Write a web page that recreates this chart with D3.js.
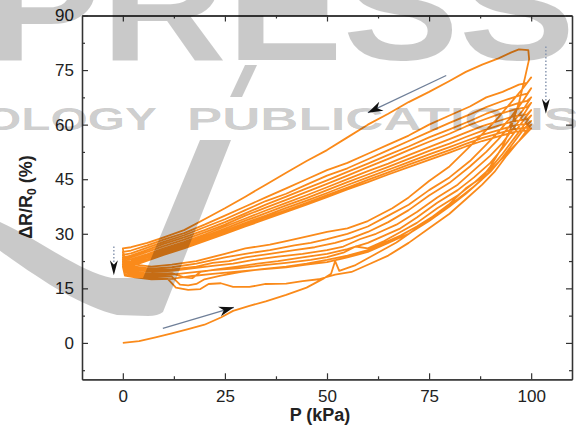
<!DOCTYPE html>
<html><head><meta charset="utf-8">
<script src="https://cdn.jsdelivr.net/npm/d3@7"></script>
<style>html,body{margin:0;padding:0;background:#fff;} svg{display:block;}</style>
</head><body>
<svg id="c" width="576" height="432"></svg>
<script>
// ---- data (P in kPa, ΔR/R0 in %) ----
const xTicks = [0, 25, 50, 75, 100];
const yTicks = [0, 15, 30, 45, 60, 75, 90];
const xMinor = [12.5, 37.5, 62.5, 87.5];
const yMinor = [-7.5, 7.5, 22.5, 37.5, 52.5, 67.5, 82.5];

const cycle1 = [[0,0],[4,0.5],[8,1.5],[12,2.6],[16,3.8],[20,5],[24,7],[27,8.8],[31,10.2],[35,11.4],[40,13.2],[45,15.2],[49,17.6],[51,19],[52,22.5],[53,19.8],[57,21.4],[62,24.5],[67,27.6],[72,31.5],[76,34.8],[80,38.2],[84,42.5],[86,44],[88,45.5],[90,48.5],[93,54],[95,59],[97,66],[98.5,73],[99.5,78],[99.3,80.5],
  [97,80.7],[95,79.8],[92,78.2],[88,76.5],[84,74.5],[80,72],[75,69],[70,66.2],[65,63],[60,60],[55,56.5],[50,53],[45,50],[40,46.8],[35,43.5],[30,40.2],[25,37],[20,34],[15,31],[10,29],[6,27.5],[2,26.3],[0,26]];
const cycle2 = [[0.5,22.5],[3,21.5],[7,21],[12,21.5],[18,22.5],[25,24.5],[30,26],[36,27],[40,28],[46,29.5],[50,30.5],[55,31.5],[60,33.5],[66,37],[70,40],[75,44.5],[80,48.5],[85,54],[89,58.5],[92,62],[95,66],[98,70],[100,73],
  [99,71.5],[97,71],[93,69],[89,67.5],[85,65],[80,62.5],[75,60],[70,57],[65,54.5],[60,52],[55,49.5],[50,47.5],[45,45],[40,42.5],[35,40],[30,37.5],[25,35],[20,32.5],[15,30.2],[10,28.4],[6,26.8],[2,25.4],[0,25]];
const cycle3 = [[0.5,21.8],[3,21],[7,20.4],[12,20.8],[18,21.8],[25,23.5],[30,24.5],[36,25.5],[42,26.8],[46,27.5],[50,28.5],[55,30],[60,32],[65,35],[70,38],[75,42],[80,45.5],[85,50],[89,54.5],[92,58],[95,62],[98,66.5],[100,70],
  [99,68.5],[97,68],[93,66.5],[89,64.8],[85,62.8],[80,60.5],[75,58],[70,55.5],[65,53],[60,50.5],[55,48],[50,46],[45,43.5],[40,41],[35,39],[30,36.5],[25,34],[20,31.8],[15,29.6],[10,27.8],[6,26.2],[2,24.6],[0,24.2]];
const cycle4 = [[0.5,21.2],[3,20.5],[7,20],[12,20.2],[18,21],[22,22],[26,22.5],[30,23.5],[36,24.5],[42,25.5],[47,26.3],[52,27.5],[56,28.8],[60,30.5],[65,33.2],[70,36.5],[75,40.5],[80,44],[85,48.5],[89,52.5],[92,56],[95,60],[98,64],[100,67.5],
  [99,66.5],[97,66],[93,64.5],[89,63],[85,61],[80,58.7],[75,56.5],[70,54],[65,51.7],[60,49.3],[55,47],[50,44.7],[45,42.5],[40,40.2],[35,38],[30,35.6],[25,33.2],[20,31],[15,29],[10,27.2],[6,25.6],[2,24],[0,23.5]];
const cycle5 = [[0.5,20.6],[3,20],[7,19.5],[12,19.8],[17,20.5],[22,21.2],[27,21.8],[32,22.8],[38,23.7],[44,24.5],[50,25.5],[54,26.5],[58,28.5],[62,30],[67,32.5],[72,36],[77,40],[82,43.5],[86,47.5],[90,51.5],[93,55],[96,59.5],[98,62.5],[100,66],
  [99,64.8],[96,64.2],[92,62.8],[88,61.2],[84,59.5],[80,57.5],[75,55.3],[70,53],[65,50.6],[60,48.3],[55,46],[50,43.7],[45,41.5],[40,39.3],[35,37.2],[30,35],[25,32.5],[20,30.4],[15,28.4],[10,26.6],[6,25],[2,23.5],[0,23]];
const cycle6 = [[0.5,20.2],[3,19.5],[7,19],[12,19.2],[15,18],[17,17.8],[19,19.5],[23,20.2],[28,21],[33,21.8],[38,22.5],[44,23.5],[50,24.5],[55,25.8],[60,27.5],[64,29.5],[68,31.5],[72,34.5],[77,38.5],[82,42],[86,45.5],[90,49.5],[93,53.5],[96,58],[98,61],[100,64],
  [99,62.8],[96,62.4],[92,61],[88,59.6],[84,57.8],[80,56],[75,53.8],[70,51.6],[65,49.3],[60,47.2],[55,45],[50,42.8],[45,40.6],[40,38.5],[35,36.4],[30,34.2],[25,32],[20,29.8],[15,27.8],[10,26],[6,24.4],[2,23],[0,22.5]];
const cycle7 = [[0.5,19.8],[3,19.2],[7,18.6],[12,18.8],[17,19.4],[22,20],[28,20.5],[34,21.3],[40,22],[46,22.8],[50,23.6],[54,24.8],[57,26.5],[60,26],[64,28],[68,30.5],[72,33],[77,37],[82,40.5],[86,44],[90,48],[93,52],[96,56.5],[98,59.5],[100,62.5],
  [99,61.5],[96,61],[92,59.7],[88,58.3],[84,56.6],[80,54.8],[75,52.8],[70,50.6],[65,48.4],[60,46.3],[55,44.2],[50,42],[45,39.8],[40,37.8],[35,35.7],[30,33.6],[25,31.4],[20,29.3],[15,27.3],[10,25.5],[6,24],[2,22.5],[0,22]];
const cycle8 = [[0.5,19.3],[3,18.7],[7,18.2],[12,18.2],[14,16],[16,15.8],[18,16.2],[20,17.5],[24,18.5],[29,19.5],[34,20.3],[40,21],[45,21.8],[50,22.8],[55,24],[60,25.5],[64,27.5],[68,29.5],[72,32],[77,35.5],[82,39.5],[86,43],[90,47],[93,51],[96,55.5],[98,58.5],[100,61],
  [99,60.2],[96,59.8],[92,58.5],[88,57.2],[84,55.5],[80,53.8],[75,51.8],[70,49.7],[65,47.6],[60,45.5],[55,43.4],[50,41.2],[45,39.1],[40,37.1],[35,35],[30,33],[25,30.9],[20,28.8],[15,26.8],[10,25],[6,23.5],[2,22],[0,21.5]];
const cycle9 = [[0.5,18.8],[3,18.3],[7,17.8],[11,17.6],[13,15.2],[16,14.6],[19,14.8],[21,16.2],[24,16.4],[27,15.4],[31,15.4],[35,16.2],[40,16.3],[44,17],[48,17.5],[52,18.8],[56,19.5],[60,21.5],[65,24],[70,27.5],[75,31.5],[80,35.5],[84,39.5],[88,43.5],[91,47],[94,51.5],[97,55.5],[100,60],
  [99,59.2],[96,58.8],[92,57.6],[88,56.3],[84,54.7],[80,53],[75,51],[70,49],[65,46.9],[60,44.8],[55,42.7],[50,40.6],[45,38.5],[40,36.5],[35,34.5],[30,32.5],[25,30.4],[20,28.4],[15,26.4],[10,24.6],[6,23],[2,21.5],[0,21]];
const cycle10 = [[0.5,18.5],[3,18],[7,17.5],[12,17.6],[17,18.4],[22,19],[28,19.6],[34,20.2],[40,20.8],[45,21.5],[50,22.2],[55,23.5],[60,25],[65,27.5],[70,30],[75,33.5],[80,37.5],[84,41],[88,45],[91,48.5],[94,52],[97,55.5],[100,59],
  [99,58.4],[96,58],[92,56.8],[88,55.5],[84,54],[80,52.3],[75,50.3],[70,48.3],[65,46.3],[60,44.2],[55,42.2],[50,40.1],[45,38],[40,36],[35,34],[30,32],[25,30],[20,28],[15,26],[10,24.2],[6,22.6],[2,21],[0,20.5]];

// direction arrows (data coordinates: from, to)
const arrowSolid = [[[79.2,73.5],[60,63.3]], [[9.8,4],[27.2,9.8]]];
const arrowDotted = [[[-2.2,26.5],[-2.2,18.6]], [[103.6,81.5],[103.6,63]]];

// ---- drawing ----
const svg = d3.select("#c");
const L = 82, R = 572, T = 15.5, B = 379.3;
const x = d3.scaleLinear().domain([-10, 110]).range([L, R]);
const y = d3.scaleLinear().domain([-10, 90]).range([B, T]);

svg.append("rect").attr("width", 576).attr("height", 432).attr("fill", "#fff");

const cycles = [cycle1, cycle2, cycle3, cycle4, cycle5, cycle6, cycle7, cycle8, cycle9, cycle10];
const line = d3.line().x(d => x(d[0])).y(d => y(d[1]));
svg.append("path").datum(cycles.flat()).attr("d", line)
  .attr("fill", "none").attr("stroke", "#fa8a1a").attr("stroke-width", 1.8)
  .attr("stroke-linejoin", "round");

// axes
const axCol = "#333";
function styleAxis(g) {
  g.select(".domain").attr("stroke", axCol).attr("stroke-width", 1.3);
  g.selectAll(".tick line").attr("stroke", axCol).attr("stroke-width", 1.2);
  g.selectAll("text").attr("font-family", "'Liberation Sans', Arial, sans-serif")
    .attr("font-size", 17).attr("fill", "#222");
}
svg.append("g").attr("transform", `translate(0,${B})`)
  .call(d3.axisBottom(x).tickValues(xTicks).tickSize(-6).tickSizeOuter(0).tickPadding(11).tickFormat(d3.format("d"))).call(styleAxis);
svg.append("g").attr("transform", `translate(0,${B})`)
  .call(d3.axisBottom(x).tickValues(xMinor).tickSize(-3).tickSizeOuter(0).tickFormat("")).call(styleAxis);
svg.append("g").attr("transform", `translate(0,${T})`)
  .call(d3.axisTop(x).tickValues(xTicks).tickSize(-6).tickSizeOuter(0).tickFormat("")).call(styleAxis);
svg.append("g").attr("transform", `translate(0,${T})`)
  .call(d3.axisTop(x).tickValues(xMinor).tickSize(-3).tickSizeOuter(0).tickFormat("")).call(styleAxis);
svg.append("g").attr("transform", `translate(${L},0)`)
  .call(d3.axisLeft(y).tickValues(yTicks).tickSize(-6).tickSizeOuter(0).tickPadding(8).tickFormat(d3.format("d"))).call(styleAxis);
svg.append("g").attr("transform", `translate(${L},0)`)
  .call(d3.axisLeft(y).tickValues(yMinor).tickSize(-3).tickSizeOuter(0).tickFormat("")).call(styleAxis);
svg.append("g").attr("transform", `translate(${R},0)`)
  .call(d3.axisRight(y).tickValues(yTicks).tickSize(-6).tickSizeOuter(0).tickFormat("")).call(styleAxis);
svg.append("g").attr("transform", `translate(${R},0)`)
  .call(d3.axisRight(y).tickValues(yMinor).tickSize(-3).tickSizeOuter(0).tickFormat("")).call(styleAxis);

// axis titles
svg.append("text").attr("x", 320).attr("y", 421).attr("text-anchor", "middle")
  .attr("font-family", "'Liberation Sans', Arial, sans-serif").attr("font-weight", "bold")
  .attr("font-size", 18).attr("fill", "#222").text("P (kPa)");
const yl = svg.append("text").attr("transform", "translate(32,197) rotate(-90)").attr("text-anchor", "middle")
  .attr("font-family", "'Liberation Sans', Arial, sans-serif").attr("font-weight", "bold")
  .attr("font-size", 18).attr("fill", "#222");
yl.append("tspan").text("ΔR/R");
yl.append("tspan").attr("font-size", 12).attr("dy", 4).text("0");
yl.append("tspan").attr("dy", -4).text(" (%)");

// watermark (translucent gray overlay)
const wm = svg.append("g").attr("fill", "#000").attr("fill-opacity", 0.21)
  .attr("font-family", "'Liberation Sans', Arial, sans-serif").attr("font-weight", "bold");
wm.append("text").attr("x", -15).attr("y", 60).attr("font-size", 150)
  .attr("textLength", 590).attr("lengthAdjust", "spacingAndGlyphs").text("PRESS");
wm.append("text").attr("x", -16).attr("y", 130).attr("font-size", 32)
  .attr("textLength", 173).attr("lengthAdjust", "spacingAndGlyphs").text("OLOGY");
wm.append("text").attr("x", 187).attr("y", 130).attr("font-size", 32)
  .attr("textLength", 392).attr("lengthAdjust", "spacingAndGlyphs").text("PUBLICATIONS");
wm.append("path").attr("d", "M-5,221 L0,222 C40,240 80,272 112,278 L143,278 L200,140 L231,140 L163,312 Q158,316 148,316 L117,315 C80,306 40,280 -5,247 Z");
wm.append("path").attr("d", "M245,65 L257,65 L242,97 L230,97 Z");

// arrows
function head(p0, p1, len, hw) {
  const a = x(p0[0]), b = y(p0[1]), c = x(p1[0]), d = y(p1[1]);
  const dx = c - a, dy = d - b, n = Math.hypot(dx, dy), ux = dx / n, uy = dy / n;
  const bx = c - ux * len, by = d - uy * len;
  const nx = bx + ux * len * 0.3, ny = by + uy * len * 0.3;
  svg.append("path").attr("fill", "#111")
    .attr("d", `M${c},${d} L${bx - uy * hw},${by + ux * hw} L${nx},${ny} L${bx + uy * hw},${by - ux * hw} Z`);
}
arrowSolid.forEach(([p0, p1]) => {
  svg.append("line").attr("x1", x(p0[0])).attr("y1", y(p0[1]))
    .attr("x2", x(p1[0])).attr("y2", y(p1[1]))
    .attr("stroke", "#6f7f98").attr("stroke-width", 1.3);
  head(p0, p1, 15, 5);
});
arrowDotted.forEach(([p0, p1]) => {
  svg.append("line").attr("x1", x(p0[0])).attr("y1", y(p0[1]))
    .attr("x2", x(p1[0])).attr("y2", y(p1[1]) - 8)
    .attr("stroke", "#8393ad").attr("stroke-width", 1.4).attr("stroke-dasharray", "1.5,2");
  head(p0, p1, 15, 4);
});
</script>
</body></html>
